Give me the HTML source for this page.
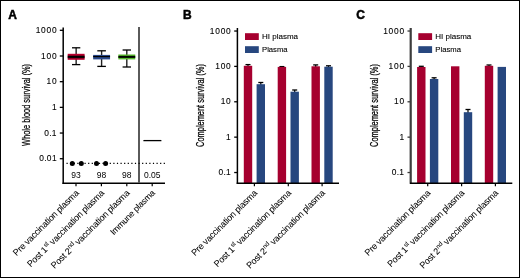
<!DOCTYPE html>
<html><head><meta charset="utf-8"><style>
html,body{margin:0;padding:0;background:#fff;}
body{width:520px;height:278px;overflow:hidden;}
svg{display:block;will-change:transform;}
</style></head><body>
<svg width="520" height="278" viewBox="0 0 520 278">
<rect x="0.5" y="0.5" width="519" height="277" fill="#fff" stroke="#000" stroke-width="1"/>
<text x="8.2" y="18.6" font-family="'Liberation Sans', sans-serif" font-weight="bold" font-size="12" stroke="#000" stroke-width="0.5">A</text>
<text transform="translate(30.0,104.9) rotate(-90) scale(0.707,1)" text-anchor="middle" font-family="'Liberation Sans', sans-serif" font-size="10.5" stroke="#000" stroke-width="0.25">Whole blood survival (%)</text>
<text x="57.30" y="33.02" text-anchor="end" font-family="'Liberation Sans', sans-serif" font-size="8.4" letter-spacing="0.75" stroke="#000" stroke-width="0.1">1000</text>
<line x1="59.8" x2="63.2" y1="30.32" y2="30.32" stroke="#000" stroke-width="1.3"/>
<text x="57.30" y="58.70" text-anchor="end" font-family="'Liberation Sans', sans-serif" font-size="8.4" letter-spacing="0.75" stroke="#000" stroke-width="0.1">100</text>
<line x1="59.8" x2="63.2" y1="56.00" y2="56.00" stroke="#000" stroke-width="1.3"/>
<text x="57.30" y="84.38" text-anchor="end" font-family="'Liberation Sans', sans-serif" font-size="8.4" letter-spacing="0.75" stroke="#000" stroke-width="0.1">10</text>
<line x1="59.8" x2="63.2" y1="81.68" y2="81.68" stroke="#000" stroke-width="1.3"/>
<text x="57.30" y="110.06" text-anchor="end" font-family="'Liberation Sans', sans-serif" font-size="8.4" letter-spacing="0.75" stroke="#000" stroke-width="0.1">1</text>
<line x1="59.8" x2="63.2" y1="107.36" y2="107.36" stroke="#000" stroke-width="1.3"/>
<text x="56.90" y="135.74" text-anchor="end" font-family="'Liberation Sans', sans-serif" font-size="8.4" letter-spacing="0.35" stroke="#000" stroke-width="0.1">0.1</text>
<line x1="59.8" x2="63.2" y1="133.04" y2="133.04" stroke="#000" stroke-width="1.3"/>
<text x="56.90" y="161.42" text-anchor="end" font-family="'Liberation Sans', sans-serif" font-size="8.4" letter-spacing="0.35" stroke="#000" stroke-width="0.1">0.01</text>
<line x1="59.8" x2="63.2" y1="158.72" y2="158.72" stroke="#000" stroke-width="1.3"/>
<line x1="63.2" x2="63.2" y1="27.5" y2="183.9" stroke="#000" stroke-width="1.5"/>
<line x1="62.5" x2="165" y1="183.2" y2="183.2" stroke="#000" stroke-width="1.5"/>
<line x1="76" x2="76" y1="183" y2="186.3" stroke="#000" stroke-width="1.2"/>
<line x1="101.4" x2="101.4" y1="183" y2="186.3" stroke="#000" stroke-width="1.2"/>
<line x1="126.8" x2="126.8" y1="183" y2="186.3" stroke="#000" stroke-width="1.2"/>
<line x1="152.2" x2="152.2" y1="183" y2="186.3" stroke="#000" stroke-width="1.2"/>
<line x1="139" x2="139" y1="27" y2="183" stroke="#5a5a5a" stroke-width="2"/>
<line x1="66.5" x2="165" y1="163.3" y2="163.3" stroke="#000" stroke-width="1.2" stroke-dasharray="1.2 2.4"/>
<line x1="76.15" x2="76.15" y1="47.8" y2="64.6" stroke="#222" stroke-width="1.4"/>
<line x1="72.0" x2="80.30000000000001" y1="47.8" y2="47.8" stroke="#000" stroke-width="1.3"/>
<line x1="72.0" x2="80.30000000000001" y1="64.6" y2="64.6" stroke="#000" stroke-width="1.3"/>
<rect x="67.7" y="53.8" width="16.9" height="6.0" fill="#b8002f"/>
<linearGradient id="g26" x1="0" y1="0" x2="0" y2="1"><stop offset="0" stop-color="#500010"/><stop offset="0.35" stop-color="#000"/><stop offset="0.65" stop-color="#000"/><stop offset="1" stop-color="#500010"/></linearGradient>
<rect x="67.7" y="55.5" width="16.9" height="2.799999999999997" fill="url(#g26)"/>
<line x1="101.6" x2="101.6" y1="50.8" y2="66.4" stroke="#222" stroke-width="1.4"/>
<line x1="97.3" x2="105.89999999999999" y1="50.8" y2="50.8" stroke="#000" stroke-width="1.3"/>
<line x1="97.3" x2="105.89999999999999" y1="66.4" y2="66.4" stroke="#000" stroke-width="1.3"/>
<rect x="93.14999999999999" y="54.9" width="16.9" height="4.5" fill="#2a4a8c"/>
<linearGradient id="g32" x1="0" y1="0" x2="0" y2="1"><stop offset="0" stop-color="#0a1a3a"/><stop offset="0.35" stop-color="#000"/><stop offset="0.65" stop-color="#000"/><stop offset="1" stop-color="#0a1a3a"/></linearGradient>
<rect x="93.14999999999999" y="55.9" width="16.9" height="1.3999999999999986" fill="url(#g32)"/>
<line x1="126.8" x2="126.8" y1="50.0" y2="67.0" stroke="#222" stroke-width="1.4"/>
<line x1="122.6" x2="131.0" y1="50.0" y2="50.0" stroke="#000" stroke-width="1.3"/>
<line x1="122.6" x2="131.0" y1="67.0" y2="67.0" stroke="#000" stroke-width="1.3"/>
<rect x="118.35" y="54.5" width="16.9" height="4.899999999999999" fill="#56b82b"/>
<linearGradient id="g38" x1="0" y1="0" x2="0" y2="1"><stop offset="0" stop-color="#1a4a0a"/><stop offset="0.35" stop-color="#000"/><stop offset="0.65" stop-color="#000"/><stop offset="1" stop-color="#1a4a0a"/></linearGradient>
<rect x="118.35" y="55.8" width="16.9" height="2.200000000000003" fill="url(#g38)"/>
<line x1="143.4" x2="161.4" y1="140.6" y2="140.6" stroke="#000" stroke-width="1.3"/>
<circle cx="72.3" cy="163.6" r="2.5" fill="#000"/>
<circle cx="81.3" cy="163.6" r="2.5" fill="#000"/>
<circle cx="96.5" cy="163.6" r="2.5" fill="#000"/>
<circle cx="105.6" cy="163.6" r="2.5" fill="#000"/>
<text x="76" y="178" text-anchor="middle" font-family="'Liberation Sans', sans-serif" font-size="8.5">93</text>
<text x="101.5" y="178" text-anchor="middle" font-family="'Liberation Sans', sans-serif" font-size="8.5">98</text>
<text x="126.8" y="178" text-anchor="middle" font-family="'Liberation Sans', sans-serif" font-size="8.5">98</text>
<text x="152.3" y="178" text-anchor="middle" font-family="'Liberation Sans', sans-serif" font-size="8.5">0.05</text>
<text transform="translate(79.30,193.60) rotate(-45)" text-anchor="end" font-family="'Liberation Sans', sans-serif" font-size="9.0" letter-spacing="-0.2" stroke="#000" stroke-width="0.05">Pre vaccination plasma</text>
<text transform="translate(104.70,193.60) rotate(-45)" text-anchor="end" font-family="'Liberation Sans', sans-serif" font-size="9.0" letter-spacing="-0.2" stroke="#000" stroke-width="0.05">Post 1<tspan font-size="6.3" dx="0.6" dy="-3.6">st</tspan><tspan dy="3.6"> vaccination plasma</tspan></text>
<text transform="translate(130.10,193.60) rotate(-45)" text-anchor="end" font-family="'Liberation Sans', sans-serif" font-size="9.0" letter-spacing="-0.2" stroke="#000" stroke-width="0.05">Post 2<tspan font-size="6.3" dx="0.6" dy="-3.6">nd</tspan><tspan dy="3.6"> vaccination plasma</tspan></text>
<text transform="translate(155.50,193.60) rotate(-45)" text-anchor="end" font-family="'Liberation Sans', sans-serif" font-size="8.7" letter-spacing="-0.2" stroke="#000" stroke-width="0.05">Immune plasma</text>
<text x="182.9" y="18.7" font-family="'Liberation Sans', sans-serif" font-weight="bold" font-size="12" stroke="#000" stroke-width="0.5">B</text>
<text transform="translate(204.2,105.5) rotate(-90) scale(0.7065,1)" text-anchor="middle" font-family="'Liberation Sans', sans-serif" font-size="10.5" stroke="#000" stroke-width="0.25">Complement survival (%)</text>
<text x="231.50" y="33.53" text-anchor="end" font-family="'Liberation Sans', sans-serif" font-size="8.4" letter-spacing="0.75" stroke="#000" stroke-width="0.1">1000</text>
<line x1="234.2" x2="237.4" y1="31.03" y2="31.03" stroke="#000" stroke-width="1.3"/>
<text x="231.50" y="68.90" text-anchor="end" font-family="'Liberation Sans', sans-serif" font-size="8.4" letter-spacing="0.75" stroke="#000" stroke-width="0.1">100</text>
<line x1="234.2" x2="237.4" y1="66.40" y2="66.40" stroke="#000" stroke-width="1.3"/>
<text x="231.50" y="104.28" text-anchor="end" font-family="'Liberation Sans', sans-serif" font-size="8.4" letter-spacing="0.75" stroke="#000" stroke-width="0.1">10</text>
<line x1="234.2" x2="237.4" y1="101.78" y2="101.78" stroke="#000" stroke-width="1.3"/>
<text x="231.50" y="139.65" text-anchor="end" font-family="'Liberation Sans', sans-serif" font-size="8.4" letter-spacing="0.75" stroke="#000" stroke-width="0.1">1</text>
<line x1="234.2" x2="237.4" y1="137.15" y2="137.15" stroke="#000" stroke-width="1.3"/>
<text x="231.10" y="175.03" text-anchor="end" font-family="'Liberation Sans', sans-serif" font-size="8.4" letter-spacing="0.35" stroke="#000" stroke-width="0.1">0.1</text>
<line x1="234.2" x2="237.4" y1="172.53" y2="172.53" stroke="#000" stroke-width="1.3"/>
<line x1="248.0" x2="248.0" y1="64.6" y2="68.8" stroke="#000" stroke-width="1.2"/>
<line x1="245.5" x2="250.5" y1="64.6" y2="64.6" stroke="#000" stroke-width="1.3"/>
<rect x="243.8" y="65.8" width="8.4" height="117.2" fill="#a6002f"/>
<line x1="260.8" x2="260.8" y1="82.5" y2="87.2" stroke="#000" stroke-width="1.2"/>
<line x1="258.3" x2="263.3" y1="82.5" y2="82.5" stroke="#000" stroke-width="1.3"/>
<rect x="256.6" y="84.2" width="8.4" height="98.8" fill="#27477f"/>
<line x1="281.90000000000003" x2="281.90000000000003" y1="66.6" y2="69.9" stroke="#000" stroke-width="1.2"/>
<line x1="279.40000000000003" x2="284.40000000000003" y1="66.6" y2="66.6" stroke="#000" stroke-width="1.3"/>
<rect x="277.70000000000005" y="66.9" width="8.4" height="116.1" fill="#a6002f"/>
<line x1="294.7" x2="294.7" y1="90.0" y2="94.7" stroke="#000" stroke-width="1.2"/>
<line x1="292.2" x2="297.2" y1="90.0" y2="90.0" stroke="#000" stroke-width="1.3"/>
<rect x="290.5" y="91.7" width="8.4" height="91.3" fill="#27477f"/>
<line x1="315.70000000000005" x2="315.70000000000005" y1="64.9" y2="69.3" stroke="#000" stroke-width="1.2"/>
<line x1="313.20000000000005" x2="318.20000000000005" y1="64.9" y2="64.9" stroke="#000" stroke-width="1.3"/>
<rect x="311.50000000000006" y="66.3" width="8.4" height="116.7" fill="#a6002f"/>
<line x1="328.5" x2="328.5" y1="65.8" y2="69.7" stroke="#000" stroke-width="1.2"/>
<line x1="326.0" x2="331.0" y1="65.8" y2="65.8" stroke="#000" stroke-width="1.3"/>
<rect x="324.3" y="66.7" width="8.4" height="116.3" fill="#27477f"/>
<line x1="237.4" x2="237.4" y1="28" y2="183.9" stroke="#000" stroke-width="1.5"/>
<line x1="236.70000000000002" x2="339" y1="183.2" y2="183.2" stroke="#000" stroke-width="1.5"/>
<line x1="254.4" x2="254.4" y1="183" y2="186.3" stroke="#000" stroke-width="1.2"/>
<line x1="288.3" x2="288.3" y1="183" y2="186.3" stroke="#000" stroke-width="1.2"/>
<line x1="322.1" x2="322.1" y1="183" y2="186.3" stroke="#000" stroke-width="1.2"/>
<rect x="245" y="33.2" width="13.8" height="6.8" fill="#a6002f"/>
<rect x="245" y="46.2" width="13.8" height="6.8" fill="#27477f"/>
<text x="262" y="38.9" font-family="'Liberation Sans', sans-serif" font-size="8" stroke="#000" stroke-width="0.1">HI plasma</text>
<text x="262" y="51.9" font-family="'Liberation Sans', sans-serif" font-size="7.7" stroke="#000" stroke-width="0.1">Plasma</text>
<text transform="translate(257.70,193.60) rotate(-45)" text-anchor="end" font-family="'Liberation Sans', sans-serif" font-size="9.0" letter-spacing="-0.2" stroke="#000" stroke-width="0.05">Pre vaccination plasma</text>
<text transform="translate(291.60,193.60) rotate(-45)" text-anchor="end" font-family="'Liberation Sans', sans-serif" font-size="9.0" letter-spacing="-0.2" stroke="#000" stroke-width="0.05">Post 1<tspan font-size="6.3" dx="0.6" dy="-3.6">st</tspan><tspan dy="3.6"> vaccination plasma</tspan></text>
<text transform="translate(325.40,193.60) rotate(-45)" text-anchor="end" font-family="'Liberation Sans', sans-serif" font-size="9.0" letter-spacing="-0.2" stroke="#000" stroke-width="0.05">Post 2<tspan font-size="6.3" dx="0.6" dy="-3.6">nd</tspan><tspan dy="3.6"> vaccination plasma</tspan></text>
<text x="356.20000000000005" y="18.7" font-family="'Liberation Sans', sans-serif" font-weight="bold" font-size="12" stroke="#000" stroke-width="0.5">C</text>
<text transform="translate(377.5,105.5) rotate(-90) scale(0.7065,1)" text-anchor="middle" font-family="'Liberation Sans', sans-serif" font-size="10.5" stroke="#000" stroke-width="0.25">Complement survival (%)</text>
<text x="404.80" y="33.53" text-anchor="end" font-family="'Liberation Sans', sans-serif" font-size="8.4" letter-spacing="0.75" stroke="#000" stroke-width="0.1">1000</text>
<line x1="407.5" x2="410.70000000000005" y1="31.03" y2="31.03" stroke="#3c3c3c" stroke-width="1.3"/>
<text x="404.80" y="68.90" text-anchor="end" font-family="'Liberation Sans', sans-serif" font-size="8.4" letter-spacing="0.75" stroke="#000" stroke-width="0.1">100</text>
<line x1="407.5" x2="410.70000000000005" y1="66.40" y2="66.40" stroke="#3c3c3c" stroke-width="1.3"/>
<text x="404.80" y="104.28" text-anchor="end" font-family="'Liberation Sans', sans-serif" font-size="8.4" letter-spacing="0.75" stroke="#000" stroke-width="0.1">10</text>
<line x1="407.5" x2="410.70000000000005" y1="101.78" y2="101.78" stroke="#3c3c3c" stroke-width="1.3"/>
<text x="404.80" y="139.65" text-anchor="end" font-family="'Liberation Sans', sans-serif" font-size="8.4" letter-spacing="0.75" stroke="#000" stroke-width="0.1">1</text>
<line x1="407.5" x2="410.70000000000005" y1="137.15" y2="137.15" stroke="#3c3c3c" stroke-width="1.3"/>
<text x="404.40" y="175.03" text-anchor="end" font-family="'Liberation Sans', sans-serif" font-size="8.4" letter-spacing="0.35" stroke="#000" stroke-width="0.1">0.1</text>
<line x1="407.5" x2="410.70000000000005" y1="172.53" y2="172.53" stroke="#3c3c3c" stroke-width="1.3"/>
<line x1="421.30000000000007" x2="421.30000000000007" y1="66.3" y2="70.0" stroke="#000" stroke-width="1.2"/>
<line x1="418.80000000000007" x2="423.80000000000007" y1="66.3" y2="66.3" stroke="#000" stroke-width="1.3"/>
<rect x="417.1000000000001" y="67.0" width="8.4" height="116.0" fill="#a6002f"/>
<line x1="434.1" x2="434.1" y1="77.8" y2="82.0" stroke="#000" stroke-width="1.2"/>
<line x1="431.6" x2="436.6" y1="77.8" y2="77.8" stroke="#000" stroke-width="1.3"/>
<rect x="429.90000000000003" y="79.0" width="8.4" height="104.0" fill="#27477f"/>
<rect x="451.00000000000006" y="66.3" width="8.4" height="116.7" fill="#a6002f"/>
<line x1="468.0" x2="468.0" y1="109.5" y2="115.2" stroke="#000" stroke-width="1.2"/>
<line x1="465.5" x2="470.5" y1="109.5" y2="109.5" stroke="#000" stroke-width="1.3"/>
<rect x="463.8" y="112.2" width="8.4" height="70.8" fill="#27477f"/>
<line x1="489.00000000000006" x2="489.00000000000006" y1="65.0" y2="68.8" stroke="#000" stroke-width="1.2"/>
<line x1="486.50000000000006" x2="491.50000000000006" y1="65.0" y2="65.0" stroke="#000" stroke-width="1.3"/>
<rect x="484.80000000000007" y="65.8" width="8.4" height="117.2" fill="#a6002f"/>
<rect x="497.6" y="66.9" width="8.4" height="116.1" fill="#27477f"/>
<line x1="410.70000000000005" x2="410.70000000000005" y1="28" y2="183.9" stroke="#3c3c3c" stroke-width="2.2"/>
<line x1="410.00000000000006" x2="512.3" y1="183.2" y2="183.2" stroke="#000" stroke-width="1.5"/>
<line x1="427.70000000000005" x2="427.70000000000005" y1="183" y2="186.3" stroke="#000" stroke-width="1.2"/>
<line x1="461.6" x2="461.6" y1="183" y2="186.3" stroke="#000" stroke-width="1.2"/>
<line x1="495.40000000000003" x2="495.40000000000003" y1="183" y2="186.3" stroke="#000" stroke-width="1.2"/>
<rect x="418.3" y="33.2" width="13.8" height="6.8" fill="#a6002f"/>
<rect x="418.3" y="46.2" width="13.8" height="6.8" fill="#27477f"/>
<text x="435.3" y="38.9" font-family="'Liberation Sans', sans-serif" font-size="8" stroke="#000" stroke-width="0.1">HI plasma</text>
<text x="435.3" y="51.9" font-family="'Liberation Sans', sans-serif" font-size="7.7" stroke="#000" stroke-width="0.1">Plasma</text>
<text transform="translate(431.00,193.60) rotate(-45)" text-anchor="end" font-family="'Liberation Sans', sans-serif" font-size="9.0" letter-spacing="-0.2" stroke="#000" stroke-width="0.05">Pre vaccination plasma</text>
<text transform="translate(464.90,193.60) rotate(-45)" text-anchor="end" font-family="'Liberation Sans', sans-serif" font-size="9.0" letter-spacing="-0.2" stroke="#000" stroke-width="0.05">Post 1<tspan font-size="6.3" dx="0.6" dy="-3.6">st</tspan><tspan dy="3.6"> vaccination plasma</tspan></text>
<text transform="translate(498.70,193.60) rotate(-45)" text-anchor="end" font-family="'Liberation Sans', sans-serif" font-size="9.0" letter-spacing="-0.2" stroke="#000" stroke-width="0.05">Post 2<tspan font-size="6.3" dx="0.6" dy="-3.6">nd</tspan><tspan dy="3.6"> vaccination plasma</tspan></text>
</svg>
</body></html>
